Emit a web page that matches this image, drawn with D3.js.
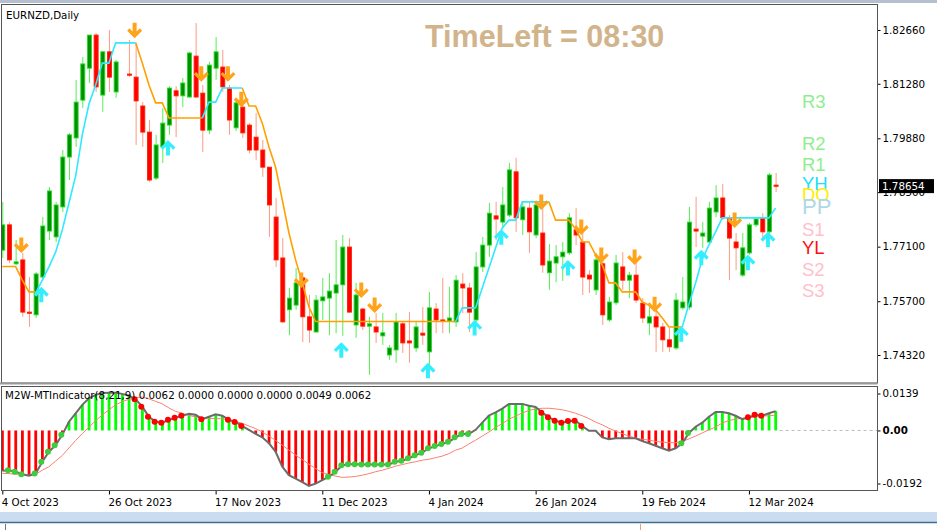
<!DOCTYPE html>
<html>
<head>
<meta charset="utf-8">
<script src="https://cdn.jsdelivr.net/npm/d3@7"></script>
<style>
  body { margin: 0; background: #fff; }
  svg { display: block; }
  .ax text { font-family: "DejaVu Sans", sans-serif; font-size: 10.3px; fill: #000; }
  .ax path.domain { display: none; }
  .ax line { stroke: #000; }
</style>
</head>
<body>
<div id="chart"></div>
<script>
// chart texts
const symbolTitle = "EURNZD,Daily";
const timerText = "TimeLeft = 08:30";
const oscTitle = "M2W-MTIndicator(8,21,9) 0.0062 0.0000 0.0000 0.0000 0.0049 0.0062";

// daily candles, 4 Oct 2023 .. 18 Mar 2024 (bar index 0..116)
const opens = [
  1.7701,1.7766,1.7666,1.7676,1.7542,1.7535,1.7632,1.7750,1.7735,1.7812,
  1.7940,1.7989,1.8086,1.8168,1.8253,1.8099,1.8210,1.8107,null,1.8153,
  1.8145,1.8071,1.8004,1.7886,1.7966,1.8022,1.8110,1.8097,1.8094,1.8199,
  1.8104,1.8009,1.8168,1.8171,1.8117,1.8015,1.8068,1.8022,1.7991,1.7958,
  1.7914,1.7786,1.7681,1.7548,1.7560,1.7630,1.7530,1.7491,1.7571,1.7578,
  1.7591,1.7612,1.7709,1.7509,1.7550,1.7506,1.7504,1.7481,1.7432,1.7445,
  1.7512,1.7468,1.7450,1.7488,1.7440,1.7550,1.7522,1.7519,1.7517,1.7614,
  1.7604,1.7522,1.7658,1.7714,1.7789,1.7773,1.7791,1.7902,1.7779,1.7809,
  1.7740,1.7745,1.7643,1.7668,1.7684,1.7694,1.7753,1.7722,1.7637,1.7599,
  1.7666,1.7522,1.7566,1.7658,1.7624,1.7637,1.7565,1.7514,1.7530,1.7504,
  1.7471,1.7450,1.7553,1.7555,1.7755,1.7737,1.7722,1.7799,1.7835,1.7784,
  1.7722,1.7637,1.7694,1.7766,1.7784,1.7748,1.7868
];
const highs = [
  1.7825,1.7773,1.7727,1.7694,1.7632,1.7645,1.7786,1.7863,1.7825,1.7958,
  1.8002,1.8138,1.8197,1.8253,1.8258,1.8212,1.8266,1.8189,null,1.8240,
  1.8233,1.8081,1.8035,1.7997,1.8066,1.8122,1.8122,1.8143,1.8210,1.8284,
  1.8125,1.8184,1.8248,1.8215,1.8125,1.8086,1.8079,1.8027,1.8053,1.7984,
  1.7914,1.7835,1.7732,1.7604,1.7655,1.7630,1.7586,1.7586,1.7630,1.7642,
  1.7727,1.7740,1.7732,1.7617,1.7553,1.7530,1.7540,1.7540,1.7458,1.7540,
  1.7517,1.7542,1.7517,1.7555,1.7594,1.7565,1.7630,1.7607,1.7637,1.7642,
  1.7617,1.7696,1.7735,1.7822,1.7825,1.7863,1.7925,1.7938,1.7825,1.7822,
  1.7825,1.7825,1.7717,1.7714,1.7722,1.7796,1.7809,1.7753,1.7650,1.7694,
  1.7676,1.7581,1.7689,1.7696,1.7645,1.7671,1.7578,1.7555,1.7555,1.7514,
  1.7501,1.7591,1.7632,1.7812,1.7838,1.7773,1.7825,1.7868,1.7871,1.7791,
  1.7745,1.7745,1.7771,1.7784,1.7796,1.7899,1.7899
];
const lows = [
  1.7681,1.7668,1.7663,1.7530,1.7504,1.7527,1.7624,1.7727,1.7722,1.7799,
  1.7881,1.7966,1.8066,1.8130,1.8107,1.8056,1.8107,1.8092,null,1.8145,
  1.7971,1.7966,1.7876,1.7881,1.7925,1.7997,1.7991,1.8068,1.8092,1.8092,
  1.7953,1.7999,1.8138,1.8107,1.7997,1.8007,1.7989,1.7950,1.7932,1.7889,
  1.7735,1.7658,1.7514,1.7483,1.7548,1.7465,1.7463,1.7491,1.7522,1.7483,
  1.7488,1.7481,1.7542,1.7476,1.7496,1.7381,1.7463,1.7458,1.7419,1.7412,
  1.7437,1.7412,1.7440,1.7458,1.7394,1.7488,1.7488,1.7488,1.7504,1.7540,
  1.7491,1.7517,1.7645,1.7684,1.7727,1.7758,1.7786,1.7748,1.7740,1.7694,
  1.7732,1.7643,1.7599,1.7619,1.7622,1.7689,1.7714,1.7586,1.7591,1.7586,
  1.7509,1.7517,1.7560,1.7599,1.7578,1.7565,1.7514,1.7483,1.7440,1.7440,
  1.7440,1.7445,1.7548,1.7548,1.7709,1.7707,1.7714,1.7786,1.7778,1.7624,
  1.7650,1.7632,1.7689,1.7760,1.7727,1.7740,1.7850
];
const closes = [
  1.7766,1.7676,1.7671,1.7542,1.7540,1.7640,1.7763,1.7853,1.7817,1.7940,
  1.7997,1.8081,1.8179,1.8253,1.8120,1.8210,1.8145,1.8184,null,1.8151,
  1.8084,1.8004,1.7881,1.7971,1.8027,1.8117,1.8097,1.8130,1.8207,1.8094,
  1.8009,1.8176,1.8210,1.8120,1.8035,1.8079,1.8002,1.7958,1.7958,1.7914,
  1.7817,1.7676,1.7517,1.7578,1.7617,1.7530,1.7496,1.7573,1.7581,1.7596,
  1.7612,1.7709,1.7542,1.7586,1.7506,1.7512,1.7491,1.7489,1.7450,1.7517,
  1.7463,1.7463,1.7504,1.7483,1.7553,1.7522,1.7519,1.7527,1.7624,1.7604,
  1.7542,1.7658,1.7714,1.7796,1.7781,1.7817,1.7907,1.7784,1.7812,1.7748,
  1.7817,1.7663,1.7673,1.7684,1.7696,1.7784,1.7740,1.7632,1.7627,1.7676,
  1.7535,1.7568,1.7668,1.7624,1.7637,1.7573,1.7527,1.7530,1.7504,1.7471,
  1.7453,1.7573,1.7568,1.7773,1.7750,1.7745,1.7809,1.7835,1.7784,1.7732,
  1.7707,1.7707,1.7766,1.7781,1.7748,1.7894,1.78654
];

// trailing stop lines (orange = down trend, cyan = up trend)
const downLine = [
  1.7659,1.7659,1.7659,1.7624,1.7594,1.7594,null,null,null,null,
  null,null,null,null,null,null,null,null,null,null,
  1.8233,1.8181,1.8125,1.8079,1.8079,1.8040,1.8040,1.8040,1.8040,1.8040,
  1.8040,null,null,null,null,null,1.8117,1.8071,1.8071,1.8027,
  1.7966,1.7914,1.7830,1.7745,1.7676,1.7617,1.7555,1.7518,1.7518,1.7518,
  1.7518,1.7518,1.7518,1.7518,1.7518,1.7518,1.7518,1.7518,1.7518,1.7518,
  1.7518,1.7518,1.7518,1.7518,1.7518,1.7518,1.7518,1.7518,1.7518,null,
  null,null,null,null,null,null,null,null,null,null,
  null,null,1.7825,1.7778,1.7778,1.7778,1.7755,1.7722,1.7722,1.7689,
  1.7663,1.7617,1.7617,1.7594,1.7594,1.7594,1.7568,1.7560,1.7548,1.7527,
  1.7504,1.7504,1.7504,null,null,null,null,null,null,null,
  null,null,null,null,null,null,null
];
const upLine = [
  null,null,null,null,null,1.7591,1.7624,1.7658,1.7696,1.7753,
  1.7822,1.7891,1.7997,1.8076,1.8125,1.8181,1.8181,1.8233,1.8233,1.8233,
  1.8233,null,null,null,null,null,null,null,null,null,
  1.8040,1.8081,1.8081,1.8117,1.8117,1.8117,1.8117,null,null,null,
  null,null,null,null,null,null,null,null,null,null,
  null,null,null,null,null,null,null,null,null,null,
  null,null,null,null,null,null,null,null,1.7518,1.7553,
  1.7553,1.7553,1.7604,1.7655,1.7707,1.7758,1.7778,1.7778,1.7825,1.7825,
  1.7825,1.7825,1.7825,null,null,null,null,null,null,null,
  null,null,null,null,null,null,null,null,null,null,
  null,null,1.7504,1.7563,1.7617,1.7678,1.7714,1.7748,1.7784,1.7784,
  1.7784,1.7784,1.7784,1.7784,1.7784,1.7784,1.7809
];

// signal arrows [bar index, price at arrow tip]
const sellArrows = [[3,1.7694],[20,1.8245],[30,1.8133],[34,1.8133],[36,1.8068],[45,1.7604],[54,1.7578],
  [56,1.7540],[81,1.7804],[87,1.7740],[90,1.7668],[95,1.7663],[98,1.7542],[110,1.7758]];
const buyArrows = [[6,1.7607],[25,1.7984],[51,1.7465],[64,1.7412],[71,1.7522],[75,1.7755],[85,1.7676],
  [102,1.7506],[105,1.7702],[112,1.7689],[115,1.7748]];

// pivot level labels
const pivotNames = ["R3","R2","R1","YH","DO","PP","S1","YL","S2","S3"];
const pivotLevels = [1.8082,1.7975,1.7920,1.7873,1.7843,1.7813,1.7755,1.7708,1.7651,1.7599];

// axes
const priceTicks = [1.82660,1.81280,1.79880,1.78500,1.77100,1.75700,1.74320];
const lastPrice = 1.78654;
const dateIndex = [0,16,32,48,64,80,96,112];
const dateLabels = ["4 Oct 2023","26 Oct 2023","17 Nov 2023","11 Dec 2023","4 Jan 2024","26 Jan 2024","19 Feb 2024","12 Mar 2024"];
const oscTicks = [0.0139,0,-0.0192];
const oscTickLabels = ["0.0139","0.00","-0.0192"];

// oscillator histogram and signal
const histogram = [
  -0.0129,-0.0127,-0.0132,-0.0140,-0.0145,-0.0138,-0.0100,-0.0068,-0.0047,-0.0014,
  0.0028,0.0055,0.0082,0.0103,0.0114,0.0120,0.0121,0.0121,0.0117,0.0111,
  0.0100,0.0076,0.0044,0.0028,0.0025,0.0034,0.0041,0.0047,0.0053,0.0050,
  0.0036,0.0044,0.0052,0.0047,0.0034,0.0027,0.0014,0.0002,-0.0011,-0.0022,
  -0.0041,-0.0068,-0.0116,-0.0143,-0.0154,-0.0165,-0.0177,-0.0170,-0.0159,-0.0148,
  -0.0132,-0.0111,-0.0108,-0.0108,-0.0109,-0.0109,-0.0109,-0.0109,-0.0109,-0.0100,
  -0.0097,-0.0089,-0.0079,-0.0071,-0.0057,-0.0050,-0.0043,-0.0036,-0.0022,-0.0011,
  -0.0011,0.0002,0.0025,0.0048,0.0058,0.0070,0.0085,0.0085,0.0085,0.0079,
  0.0075,0.0057,0.0042,0.0031,0.0025,0.0030,0.0031,0.0014,-0.0001,-0.0001,
  -0.0022,-0.0028,-0.0025,-0.0025,-0.0025,-0.0025,-0.0034,-0.0041,-0.0049,-0.0057,
  -0.0065,-0.0057,-0.0041,-0.0008,0.0012,0.0025,0.0044,0.0059,0.0059,0.0055,
  0.0047,0.0036,0.0042,0.0050,0.0047,0.0055,0.0062
];
const signal = [
  -0.0137,-0.0138,-0.0140,-0.0141,-0.0143,-0.0140,-0.0127,-0.0116,-0.0098,-0.0080,
  -0.0056,-0.0032,-0.0010,0.0011,0.0031,0.0050,0.0066,0.0082,0.0092,0.0100,
  0.0104,0.0107,0.0101,0.0093,0.0085,0.0072,0.0061,0.0055,0.0048,0.0043,
  0.0041,0.0039,0.0038,0.0037,0.0034,0.0029,0.0023,0.0014,0.0006,-0.0005,
  -0.0018,-0.0032,-0.0047,-0.0063,-0.0079,-0.0093,-0.0108,-0.0122,-0.0135,-0.0141,
  -0.0146,-0.0150,-0.0149,-0.0147,-0.0143,-0.0138,-0.0132,-0.0127,-0.0121,-0.0114,
  -0.0109,-0.0104,-0.0100,-0.0095,-0.0092,-0.0087,-0.0082,-0.0074,-0.0063,-0.0056,
  -0.0043,-0.0031,-0.0018,-0.0005,0.0010,0.0022,0.0036,0.0046,0.0056,0.0064,
  0.0069,0.0071,0.0071,0.0069,0.0066,0.0061,0.0055,0.0047,0.0038,0.0027,
  0.0018,0.0007,-0.0002,-0.0010,-0.0018,-0.0024,-0.0028,-0.0031,-0.0035,-0.0037,
  -0.0039,-0.0039,-0.0035,-0.0027,-0.0018,-0.0008,0.0002,0.0011,0.0024,0.0032,
  0.0036,0.0039,0.0041,0.0043,0.0046,0.0047,0.0049
];
const greenDots = [1,2,3,5,6,7,8,9,49,50,51,52,53,54,55,56,57,58,59,60,61,62,63,64,65,66,67,68,69,70,102,103];
const redDots = [20,21,22,23,24,25,26,27,30,34,35,36,81,82,83,84,85,86,87,112,113,114];

// ---- layout ----
const W = 937, H = 530;
const plotL = 1.5, plotR = 877.5;
const mainTop = 4.5, mainBot = 383, oscTop = 386.5, oscBot = 490.5;

const svg = d3.select("#chart").append("svg")
  .attr("width", W).attr("height", H)
  .style("background", "#fff");

const x = d3.scaleLinear().domain([0, 116]).range([2.3, 775.6]);
const y = d3.scaleLinear().domain([1.74320, 1.82660]).range([355, 30]);
const yo = d3.scaleLinear().domain([-0.0192, 0.0139]).range([490.5, 387]);

// window chrome
svg.append("rect").attr("x", 0).attr("y", 0).attr("width", W).attr("height", 3).attr("fill", "#b4c0ce");
svg.append("rect").attr("x", 0).attr("y", 512).attr("width", W).attr("height", 10).attr("fill", "#cadcf0");
svg.append("line").attr("x1", 0).attr("x2", W).attr("y1", 522.5).attr("y2", 522.5).attr("stroke", "#3d6f8e").attr("stroke-width", 1.5);
svg.append("line").attr("x1", 5.5).attr("x2", 5.5).attr("y1", 524).attr("y2", 530).attr("stroke", "#777");
svg.append("line").attr("x1", 640.5).attr("x2", 640.5).attr("y1", 524).attr("y2", 530).attr("stroke", "#f0a070");

// clip for the panels
svg.append("clipPath").attr("id", "clipMain")
  .append("rect").attr("x", plotL).attr("y", mainTop).attr("width", plotR - plotL).attr("height", mainBot - mainTop);
svg.append("clipPath").attr("id", "clipOsc")
  .append("rect").attr("x", plotL).attr("y", oscTop).attr("width", plotR - plotL).attr("height", oscBot - oscTop);

const main = svg.append("g").attr("clip-path", "url(#clipMain)");

// candles
const bars = opens.map((o, i) => ({ i, o, h: highs[i], l: lows[i], c: closes[i] }))
  .filter(d => d.o != null);

main.selectAll("line.wick")
  .data(bars)
  .enter()
  .append("line")
  .attr("class", "wick")
  .attr("x1", d => x(d.i) + 0.5).attr("x2", d => x(d.i) + 0.5)
  .attr("y1", d => y(d.h)).attr("y2", d => y(d.l))
  .attr("stroke", d => d.c >= d.o ? "#55ee55" : "#ff9a80")
  .attr("stroke-width", 1);

main.selectAll("rect.body")
  .data(bars)
  .enter()
  .append("rect")
  .attr("class", "body")
  .attr("x", d => x(d.i) - 1.5)
  .attr("width", 4)
  .attr("y", d => y(Math.max(d.o, d.c)))
  .attr("height", d => Math.max(1.2, Math.abs(y(d.o) - y(d.c))))
  .attr("fill", d => d.c >= d.o ? "#008f00" : "#ff0000")
  .attr("stroke", d => d.c >= d.o ? "#22dd22" : "#ff2200")
  .attr("stroke-width", 0.9);

// trailing lines
const trail = d3.line()
  .defined(d => d != null)
  .x((d, i) => x(i))
  .y(d => y(d));

main.append("path").datum(downLine)
  .attr("d", trail)
  .attr("fill", "none").attr("stroke", "#ffa000").attr("stroke-width", 1.6);
main.append("path").datum(upLine)
  .attr("d", trail)
  .attr("fill", "none").attr("stroke", "#30e8ff").attr("stroke-width", 1.6);

// arrows
const downArrow = "M0,0 L-7.5,-7.5 L-5.2,-9.9 L-2,-6.6 L-2,-15.5 L2,-15.5 L2,-6.6 L5.2,-9.9 L7.5,-7.5 Z";
const upArrow = "M0,0 L-7.5,7.5 L-5.2,9.9 L-2,6.6 L-2,15.5 L2,15.5 L2,6.6 L5.2,9.9 L7.5,7.5 Z";

main.selectAll("path.sell")
  .data(sellArrows)
  .enter()
  .append("path")
  .attr("class", "sell")
  .attr("d", downArrow)
  .attr("transform", d => `translate(${x(d[0]) - 1},${y(d[1])})`)
  .attr("fill", "#ffa31a");

main.selectAll("path.buy")
  .data(buyArrows)
  .enter()
  .append("path")
  .attr("class", "buy")
  .attr("d", upArrow)
  .attr("transform", d => `translate(${x(d[0]) - 1},${y(d[1])})`)
  .attr("fill", "#33eeff");

// pivot labels
const pivotColor = { R3: "#90ee90", R2: "#90ee90", R1: "#90ee90", YH: "#22ddff", DO: "#ffee00",
  PP: "#add8e6", S1: "#ffc0cb", YL: "#ff1010", S2: "#ffc0cb", S3: "#ffc0cb" };

svg.selectAll("text.pivot")
  .data(pivotNames)
  .enter()
  .append("text")
  .attr("class", "pivot")
  .attr("x", 802)
  .attr("y", (d, i) => y(pivotLevels[i]))
  .attr("dy", "0.36em")
  .attr("font-family", "'Liberation Sans', Arial, sans-serif")
  .attr("font-size", d => d === "PP" ? 22 : 18.5)
  .attr("fill", d => pivotColor[d])
  .text(d => d);

// timer and title
svg.append("text")
  .attr("x", 425).attr("y", 47)
  .attr("font-family", "'Liberation Sans', Arial, sans-serif")
  .attr("font-weight", "bold")
  .attr("font-size", 30.5)
  .attr("fill", "#d2b48c")
  .text(timerText);

svg.append("text")
  .attr("x", 6).attr("y", 19)
  .attr("font-family", "'DejaVu Sans', sans-serif")
  .attr("font-size", 10.3)
  .attr("fill", "#000")
  .text(symbolTitle);

// price axis
svg.append("g")
  .attr("class", "ax")
  .attr("transform", `translate(${plotR},0)`)
  .call(d3.axisRight(y).tickValues(priceTicks).tickFormat(d3.format(".5f")).tickSize(3).tickPadding(2));

// last price marker
svg.append("rect")
  .attr("x", 879).attr("y", y(lastPrice) - 7)
  .attr("width", 55).attr("height", 14)
  .attr("fill", "#000");
svg.append("text")
  .attr("x", 882).attr("y", y(lastPrice))
  .attr("dy", "0.35em")
  .attr("font-family", "'DejaVu Sans', sans-serif")
  .attr("font-size", 10.3)
  .attr("fill", "#fff")
  .text(d3.format(".5f")(lastPrice));

// ---- oscillator panel ----
const osc = svg.append("g").attr("clip-path", "url(#clipOsc)");

osc.append("line")
  .attr("x1", x(116) + 4).attr("x2", plotR)
  .attr("y1", yo(0)).attr("y2", yo(0))
  .attr("stroke", "#bbb").attr("stroke-dasharray", "3,3");

osc.selectAll("rect.hist")
  .data(histogram)
  .enter()
  .append("rect")
  .attr("class", "hist")
  .attr("x", (d, i) => x(i) - 1.3)
  .attr("width", 2.8)
  .attr("y", d => Math.min(yo(d), yo(0)))
  .attr("height", d => Math.abs(yo(d) - yo(0)))
  .attr("fill", d => d >= 0 ? "#00ff00" : "#ff0000");

osc.append("path").datum(signal)
  .attr("d", d3.line().x((d, i) => x(i)).y(d => yo(d)))
  .attr("fill", "none").attr("stroke", "#fa8072").attr("stroke-width", 1);

osc.append("path").datum(histogram)
  .attr("d", d3.line().x((d, i) => x(i)).y(d => yo(d)))
  .attr("fill", "none").attr("stroke", "#6b6b6b").attr("stroke-width", 2);

osc.selectAll("circle.gdot")
  .data(greenDots)
  .enter()
  .append("circle")
  .attr("class", "gdot")
  .attr("cx", d => x(d) - 1)
  .attr("cy", d => yo(histogram[d]))
  .attr("r", 3)
  .attr("fill", "#3ccc3c");

osc.selectAll("circle.rdot")
  .data(redDots)
  .enter()
  .append("circle")
  .attr("class", "rdot")
  .attr("cx", d => x(d) - 1)
  .attr("cy", d => yo(histogram[d]))
  .attr("r", 3)
  .attr("fill", "#ff0000");

svg.append("text")
  .attr("x", 5).attr("y", 399)
  .attr("font-family", "'DejaVu Sans', sans-serif")
  .attr("font-size", 10.3)
  .attr("fill", "#000")
  .text(oscTitle);

const oscAxis = svg.append("g")
  .attr("class", "ax")
  .attr("transform", `translate(${plotR},0)`)
  .call(d3.axisRight(yo).tickValues(oscTicks).tickFormat((d, i) => oscTickLabels[i]).tickSize(3).tickPadding(2));
oscAxis.selectAll("text").attr("font-weight", d => d === 0 ? "bold" : null);
oscAxis.selectAll(".tick").filter(d => d !== 0).attr("transform", d => `translate(0,${d > 0 ? 394 : 484})`);

// date axis
const dateAxis = svg.append("g")
  .attr("class", "ax")
  .attr("transform", `translate(0,${oscBot})`)
  .call(d3.axisBottom(x).tickValues(dateIndex).tickFormat((d, i) => dateLabels[i]).tickSize(4).tickPadding(2));
dateAxis.selectAll("text").attr("text-anchor", "start").attr("x", -1).attr("dy", "0.95em");

// panel borders
svg.append("rect")
  .attr("x", plotL).attr("y", mainTop).attr("width", plotR - plotL).attr("height", mainBot - mainTop)
  .attr("fill", "none").attr("stroke", "#555");
svg.append("line").attr("x1", 0).attr("x2", plotR).attr("y1", mainBot + 0.5).attr("y2", mainBot + 0.5)
  .attr("stroke", "#999").attr("stroke-width", 2);
svg.append("rect")
  .attr("x", plotL).attr("y", oscTop).attr("width", plotR - plotL).attr("height", oscBot - oscTop)
  .attr("fill", "none").attr("stroke", "#555");
</script>
</body>
</html>
